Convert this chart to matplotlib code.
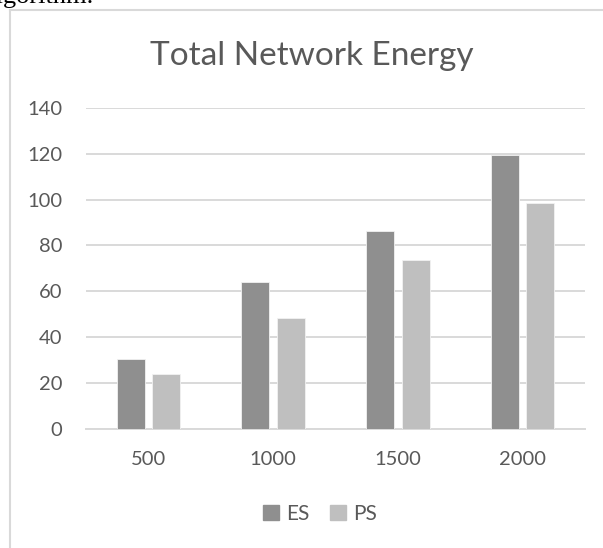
#!/usr/bin/env python3

from matplotlib import pyplot as plt
from matplotlib.lines import Line2D
from matplotlib.patches import Patch
import numpy as np

nodes = ["500", "1000", "1500", "2000"]
es = [30.5, 64, 86.5, 119.5]
ps = [24, 48.5, 73.5, 98.5]

grey_text = "#595959"
grid_col = "#d9d9d9"
es_col = "#8f8f8f"
ps_col = "#bfbfbf"

plt.rcParams.update({'font.family': ['Lato', 'DejaVu Sans']})

W, H = 603, 548
fig = plt.figure(figsize=(W / 100, H / 100), dpi=100)
ax = fig.add_axes([86 / W, 1 - 428.8 / H, (585 - 86) / W, (428.8 - 108) / H])

x = np.arange(len(nodes))
width = 0.224
gap = 0.06
ax.bar(x - (width + gap) / 2, es, width, color=es_col, edgecolor="#f2f2f2",
       linewidth=0.6, label="ES", zorder=3)
ax.bar(x + (width + gap) / 2, ps, width, color=ps_col, edgecolor="#f2f2f2",
       linewidth=0.6, label="PS", zorder=3)

ax.set_xlim(-0.5, len(nodes) - 0.5)
ax.set_ylim(0, 140)
ax.set_yticks(np.arange(0, 141, 20))
ax.set_xticks(x)
ax.set_xticklabels(nodes)
ax.yaxis.grid(True, color=grid_col, linewidth=1.4, zorder=0)
ax.set_axisbelow(True)
for side in ["top", "right", "left"]:
    ax.spines[side].set_visible(False)
ax.spines["bottom"].set_color(grid_col)
ax.spines["bottom"].set_linewidth(1.4)
ax.tick_params(axis="both", length=0, labelsize=14.5, labelcolor=grey_text)
ax.tick_params(axis="y", pad=17)
ax.tick_params(axis="x", pad=16)

fig.text(312 / W, 1 - 65 / H, "Total Network Energy", ha="center", va="baseline",
         fontsize=24, color=grey_text)

handles = [Patch(color=es_col, label="ES"), Patch(color=ps_col, label="PS")]
fig.legend(handles=handles, loc="center", bbox_to_anchor=(320 / W, 1 - 514 / H),
           ncol=2, frameon=False, fontsize=15, labelcolor=grey_text,
           handlelength=0.75, handleheight=0.75, handletextpad=0.35,
           columnspacing=1.0)

# chart frame and the line of body text above it
fig.add_artist(Line2D([10 / W, 10 / W], [0, 1 - 10 / H], color=grid_col, linewidth=1.5))
fig.add_artist(Line2D([10 / W, 1], [1 - 10 / H, 1 - 10 / H], color=grid_col, linewidth=1.5))
fig.text(-16 / W, 1 - 3.5 / H, "algorithm.", ha="left", va="baseline",
         fontsize=19, family="Liberation Serif", color="black")

plt.savefig("out.png", dpi=100)
